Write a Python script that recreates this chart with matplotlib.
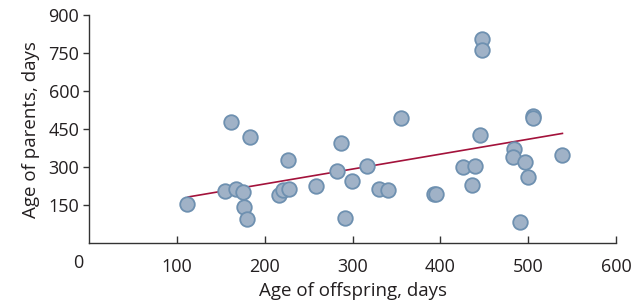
import matplotlib
matplotlib.use("Agg")
import matplotlib.pyplot as plt

plt.rcParams['font.family'] = ['Open Sans', 'DejaVu Sans']

offspring_age = [111, 162, 183, 227, 155, 167, 175, 176, 180, 216, 221, 228,
                 259, 282, 287, 299, 292, 316, 330, 340, 355, 393, 395,
                 426, 440, 436, 445, 448, 448, 484, 483, 496, 500, 491,
                 506, 505, 539]
parent_age = [154, 479, 418, 326, 205, 212, 200, 142, 95, 191, 208, 213,
              225, 284, 397, 245, 99, 304, 213, 208, 492, 192, 195,
              300, 306, 230, 428, 805, 763, 371, 341, 321, 259, 83,
              500, 492, 346]
fit_x = [113, 539]
fit_y = [182, 433]

x_ticks = [100, 200, 300, 400, 500, 600]
y_ticks = [150, 300, 450, 600, 750, 900]

fig = plt.figure(figsize=(6.39, 3.05), dpi=100)
ax = fig.add_axes([0.1393, 0.2033, 0.964 - 0.1393, 0.95 - 0.2033])

ax.plot(fit_x, fit_y, color='#a3123b', lw=1.2, zorder=2)
ax.scatter(offspring_age, parent_age, s=110, facecolor='#a0b2c7',
           edgecolor='#6e90b0', linewidth=1.3, zorder=3)

ax.set_xlim(0, 600)
ax.set_ylim(0, 900)
ax.set_xticks(x_ticks)
ax.set_yticks(y_ticks)
ax.tick_params(width=1, color='#333333', labelsize=13, labelcolor='#231f20')
ax.tick_params(axis='x', direction='in', length=5, pad=11)
ax.tick_params(axis='y', direction='out', length=4, pad=3)
for side in ['top', 'right']:
    ax.spines[side].set_visible(False)
for side in ['left', 'bottom']:
    ax.spines[side].set_color('#333333')
    ax.spines[side].set_linewidth(1)

ax.annotate('0', xy=(0, 0), xycoords='data', xytext=(-11, -20),
            textcoords='offset pixels', ha='center', va='center',
            fontsize=13, color='#231f20')

ax.set_xlabel('Age of offspring, days', fontsize=13.5, color='#231f20', labelpad=4)
ax.set_ylabel('Age of parents, days', fontsize=13.5, color='#231f20', labelpad=6)

fig.savefig('out.png', dpi=100)
